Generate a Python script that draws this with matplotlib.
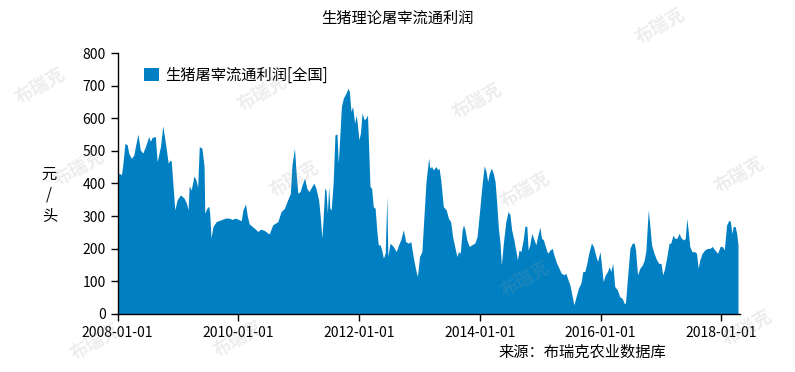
import pandas as pd
import matplotlib
matplotlib.use('Agg')
import matplotlib.pyplot as plt
import matplotlib.dates as mdates

plt.rcParams['font.family'] = ['Noto Sans CJK SC', 'DejaVu Sans']

dates = [
    '2008-01-01', '2008-01-08', '2008-01-24', '2008-02-02', '2008-02-14', '2008-02-28', '2008-03-08',
    '2008-03-24', '2008-04-08', '2008-04-17', '2008-05-03', '2008-05-17', '2008-06-01', '2008-06-17',
    '2008-07-07', '2008-07-17', '2008-07-27', '2008-08-16', '2008-08-27', '2008-09-16', '2008-09-30',
    '2008-10-16', '2008-11-02', '2008-11-10', '2008-11-20', '2008-11-30', '2008-12-12', '2008-12-26',
    '2009-01-15', '2009-02-06', '2009-02-20', '2009-03-02', '2009-03-09', '2009-03-21', '2009-04-07',
    '2009-04-19', '2009-04-29', '2009-05-09', '2009-05-25', '2009-06-07', '2009-06-11', '2009-06-25',
    '2009-07-05', '2009-07-11', '2009-07-19', '2009-07-31', '2009-08-19', '2009-09-14', '2009-10-14',
    '2009-11-04', '2009-11-24', '2009-12-14',
    '2010-01-18', '2010-01-28', '2010-02-13', '2010-02-24', '2010-03-07', '2010-04-07', '2010-04-28',
    '2010-05-17', '2010-06-07', '2010-07-06', '2010-07-27', '2010-08-27', '2010-09-16', '2010-10-06',
    '2010-10-26', '2010-11-11', '2010-11-21', '2010-12-06', '2010-12-16', '2010-12-26',
    '2011-01-09', '2011-01-21', '2011-02-05', '2011-02-19', '2011-03-04', '2011-03-21', '2011-04-03',
    '2011-04-15', '2011-05-01', '2011-05-11', '2011-05-21', '2011-05-29', '2011-06-07', '2011-06-15',
    '2011-06-23', '2011-07-01', '2011-07-08', '2011-07-16', '2011-07-28', '2011-08-08', '2011-08-20',
    '2011-08-28', '2011-09-08', '2011-09-16', '2011-09-28', '2011-10-14', '2011-10-26', '2011-11-03',
    '2011-11-13', '2011-11-23', '2011-12-05', '2011-12-15', '2011-12-23', '2011-12-31',
    '2012-01-09', '2012-01-19', '2012-02-01', '2012-02-11', '2012-02-21', '2012-03-07', '2012-03-17',
    '2012-03-27', '2012-04-07', '2012-04-17', '2012-04-26', '2012-05-07', '2012-05-17', '2012-05-27',
    '2012-06-07', '2012-06-17', '2012-06-23', '2012-07-06', '2012-07-26', '2012-08-13', '2012-08-27',
    '2012-09-09', '2012-09-25', '2012-10-09', '2012-10-25', '2012-11-09', '2012-11-25', '2012-12-09',
    '2012-12-19',
    '2013-01-01', '2013-01-15', '2013-01-25', '2013-02-09', '2013-02-25', '2013-03-04', '2013-03-15',
    '2013-03-25', '2013-04-11', '2013-04-21', '2013-04-29', '2013-05-09', '2013-05-25', '2013-06-11',
    '2013-06-25', '2013-07-08', '2013-07-20', '2013-08-04', '2013-08-15', '2013-08-24', '2013-09-04',
    '2013-09-16', '2013-09-24', '2013-10-03', '2013-10-14', '2013-10-28', '2013-11-13', '2013-12-01',
    '2013-12-15', '2013-12-30',
    '2014-01-13', '2014-01-27', '2014-02-07', '2014-02-17', '2014-02-27', '2014-03-11', '2014-03-23',
    '2014-04-03', '2014-04-13', '2014-04-23', '2014-05-03', '2014-05-11', '2014-05-23', '2014-06-07',
    '2014-06-21', '2014-07-02', '2014-07-12', '2014-07-26', '2014-08-06', '2014-08-16', '2014-08-26',
    '2014-09-06', '2014-09-20', '2014-10-01', '2014-10-12', '2014-10-20', '2014-10-30', '2014-11-11',
    '2014-11-25', '2014-12-06', '2014-12-16', '2014-12-30',
    '2015-01-09', '2015-01-21', '2015-02-01', '2015-02-15', '2015-03-01', '2015-03-15', '2015-03-25',
    '2015-04-11', '2015-04-25', '2015-05-08', '2015-05-25', '2015-06-05', '2015-06-19', '2015-06-30',
    '2015-07-14', '2015-07-24', '2015-08-06', '2015-08-20', '2015-09-04', '2015-09-16', '2015-09-28',
    '2015-10-10', '2015-10-24', '2015-11-07', '2015-11-19', '2015-12-05', '2015-12-14', '2015-12-29',
    '2016-01-07', '2016-01-17', '2016-01-29', '2016-02-12', '2016-02-23', '2016-03-03', '2016-03-15',
    '2016-03-27', '2016-04-12', '2016-04-26', '2016-05-11', '2016-05-23', '2016-05-31', '2016-06-13',
    '2016-06-27', '2016-07-11', '2016-07-23', '2016-07-31', '2016-08-12', '2016-08-26', '2016-09-10',
    '2016-09-22', '2016-10-02', '2016-10-10', '2016-10-16', '2016-10-26', '2016-11-05', '2016-11-20',
    '2016-12-05', '2016-12-19',
    '2017-01-01', '2017-01-11', '2017-01-21', '2017-02-04', '2017-02-19', '2017-03-01', '2017-03-15',
    '2017-03-25', '2017-04-08', '2017-04-20', '2017-05-04', '2017-05-19', '2017-05-28', '2017-06-06',
    '2017-06-14', '2017-06-24', '2017-07-08', '2017-07-24', '2017-08-04', '2017-08-14', '2017-08-24',
    '2017-09-07', '2017-09-23', '2017-10-09', '2017-10-24', '2017-11-07', '2017-11-23', '2017-12-10',
    '2017-12-25',
    '2018-01-07', '2018-01-19', '2018-02-02', '2018-02-17', '2018-02-25', '2018-03-06', '2018-03-14',
    '2018-03-26', '2018-04-04', '2018-04-12',
]

profit = [
    406, 432, 427, 462, 523, 518, 493,
    477, 487, 513, 551, 503, 493, 513,
    544, 529, 541, 544, 467, 513, 577,
    524, 462, 470, 470, 401, 319, 350,
    365, 355, 340, 319, 393, 380, 423,
    411, 388, 513, 508, 452, 309, 325,
    330, 309, 233, 268, 283, 288, 294,
    294, 290, 294,
    286, 319, 337, 299, 276, 263, 253,
    260, 256, 245, 273, 283, 314, 324,
    350, 370, 457, 508, 431, 370,
    375, 396, 416, 385, 375, 391, 401,
    385, 350, 299, 232, 299, 385, 380,
    309, 391, 324, 319, 401, 549, 552,
    462, 559, 636, 662, 677, 692, 682,
    621, 636, 585, 610, 575, 534,
    554, 616, 595, 600, 610, 391, 385,
    329, 324, 258, 212, 212, 196, 171,
    186, 360, 176, 217, 207, 191, 212,
    227, 258, 222, 217, 222, 171, 135,
    115,
    176, 191, 278, 406, 478, 447, 452,
    442, 452, 442, 447, 411, 329, 319,
    293, 283, 237, 201, 176, 191, 186,
    258, 273, 258, 227, 207, 212, 217,
    237, 314,
    391, 454, 437, 406, 431, 447, 431,
    406, 339, 263, 217, 150, 217, 283,
    314, 304, 258, 227, 196, 166, 196,
    191, 227, 270, 268, 196, 212, 247,
    227, 212, 237, 266,
    232, 227, 207, 186, 196, 201, 181,
    155, 140, 125, 120, 125, 104, 89,
    53, 28, 53, 79, 94, 130, 130,
    155, 191, 217, 207, 176, 161, 191,
    150, 99, 119, 130, 145, 130, 155,
    84, 74, 53, 48, 33, 33, 115,
    201, 217, 217, 196, 120, 140, 150,
    166, 196, 268, 319, 268, 212, 186,
    166, 155,
    155, 120, 135, 171, 217, 217, 242,
    232, 232, 247, 232, 227, 232, 293,
    258, 207, 191, 191, 186, 140, 166,
    186, 196, 201, 201, 207, 196, 186,
    207,
    207, 196, 273, 288, 283, 247, 268,
    268, 247, 212,
]

title = '生猪理论屠宰流通利润'
series_name = '生猪屠宰流通利润[全国]'
source = '来源：布瑞克农业数据库'
ylabel = '元\n/\n头'

x = pd.to_datetime(dates)

fig = plt.figure(figsize=(7.95, 3.72), dpi=100)
ax = fig.add_axes([0.148, 0.156, 0.783, 0.7015])

ax.fill_between(x, profit, 0, color='#0080c3', linewidth=0, label=series_name)

ax.set_ylim(0, 800)
ax.set_yticks(range(0, 801, 100))
ax.set_xlim(pd.Timestamp('2008-01-01'), pd.Timestamp('2018-04-25'))
ax.xaxis.set_major_locator(mdates.YearLocator(2))
ax.xaxis.set_major_formatter(mdates.DateFormatter('%Y-%m-%d'))

for s in ['top', 'right']:
    ax.spines[s].set_visible(False)
ax.spines['left'].set_linewidth(1)
ax.spines['bottom'].set_linewidth(1)
ax.tick_params(direction='out', length=5, width=1, labelsize=10, colors='black')

ax.legend(loc='upper left', bbox_to_anchor=(0.02, 1.0), frameon=False, fontsize=11,
          handlelength=1.0, handleheight=1.0, handletextpad=0.4)

fig.text(0.5, 0.95, title, ha='center', va='center', fontsize=11)
fig.text(0.062, 0.475, ylabel, ha='center', va='center', fontsize=11, linespacing=1.3)
fig.text(0.627, 0.053, source, ha='left', va='center', fontsize=11)

# faint watermarks
marks = [(0.05, 0.77), (0.33, 0.75), (0.60, 0.73), (0.83, 0.93), (0.10, 0.55),
         (0.37, 0.52), (0.66, 0.49), (0.93, 0.53), (0.66, 0.25), (0.94, 0.12),
         (0.30, 0.09), (0.12, 0.08)]
for mx, my in marks:
    fig.text(mx, my, '布瑞克', rotation=30, ha='center', va='center', fontsize=13,
             fontweight='bold', color='#9a9a9a', alpha=0.18, zorder=10)

fig.savefig('out.png', dpi=100)
